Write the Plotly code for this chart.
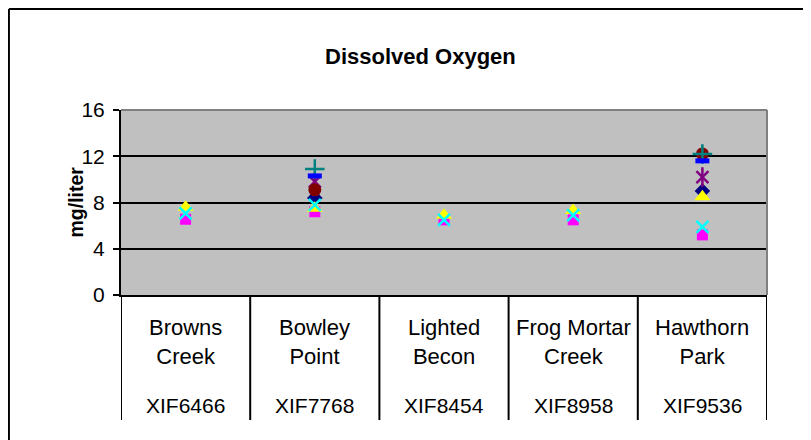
import plotly.graph_objects as go

sites = ["Browns Creek", "Bowley Point", "Lighted Becon", "Frog Mortar Creek", "Hawthorn Park"]
site_lines = ["Browns<br>Creek", "Bowley<br>Point", "Lighted<br>Becon", "Frog Mortar<br>Creek", "Hawthorn<br>Park"]
codes = ["XIF6466", "XIF7768", "XIF8454", "XIF8958", "XIF9536"]

series1 = [None, 8.4, None, None, 9.0]    # navy diamond
series2 = [6.55, 7.2, 6.5, 6.5, 5.2]      # magenta square
series3 = [7.6, 7.5, 6.9, 7.3, 8.5]       # yellow triangle
series4 = [7.05, 7.8, 6.5, 6.9, 5.9]      # cyan x
series5 = [None, 9.8, None, None, 10.2]   # purple asterisk
series6 = [None, 9.1, None, None, 12.2]   # maroon circle
series7 = [None, 10.9, None, None, 12.2]  # teal plus
series8 = [None, 10.3, None, None, 11.6]  # blue dash

yticks = [0, 4, 8, 12, 16]

FONT = "Arial, Liberation Sans, sans-serif"

fig = go.Figure()

def add(vals, name, symbol, color, size, line_w=0, line_col=None, show=True):
    fig.add_trace(go.Scatter(
        x=sites, y=vals, mode="markers", name=name, showlegend=False,
        marker=dict(symbol=symbol, color=color, size=size,
                    line=dict(width=line_w, color=line_col or color)),
        hoverinfo="x+y" if show else "skip"))

add(series1, "Series1", "diamond", "#000080", 12)
add(series2, "Series2", "square", "#FF00FF", 11)
add(series3, "Series3", "triangle-up", "#FFFF00", 14)
add(series4, "Series4", "x-thin", "#00FFFF", 12, 2.5)
add(series5, "Series5", "x-thin", "#800080", 12, 2.5)
add(series5, "Series5", "line-ns", "#800080", 14, 2.5, show=False)
add(series6, "Series6", "circle", "#800000", 13)
add(series7, "Series7", "cross-thin", "#008080", 14, 2.5)
add(series8, "Series8", "line-ew", "#0000FF", 10, 5)

shapes = []
# plot-area border (top and right gray)
shapes.append(dict(type="line", xref="paper", yref="paper", x0=0, x1=1, y0=1, y1=1,
                   line=dict(color="#808080", width=2), layer="above"))
shapes.append(dict(type="line", xref="paper", yref="paper", x0=1, x1=1, y0=0, y1=1,
                   line=dict(color="#808080", width=2), layer="above"))
# category table dividers
for i in range(len(sites) + 1):
    shapes.append(dict(type="line", xref="x", yref="paper", x0=i - 0.5, x1=i - 0.5,
                       y0=0, y1=-0.676, line=dict(color="black", width=2)))
# chart frame (left and top)
shapes.append(dict(type="line", xref="paper", yref="paper", x0=-0.1735, x1=-0.1735,
                   y0=1.546, y1=-0.9, line=dict(color="black", width=2)))
shapes.append(dict(type="line", xref="paper", yref="paper", x0=-0.1735, x1=1.2,
                   y0=1.546, y1=1.546, line=dict(color="black", width=2)))

annotations = []
for s, lab, c in zip(sites, site_lines, codes):
    annotations.append(dict(x=s, xref="x", yref="paper", y=-0.254, yanchor="middle",
                            text=lab, showarrow=False,
                            font=dict(family=FONT, size=22, color="black")))
    annotations.append(dict(x=s, xref="x", yref="paper", y=-0.595, yanchor="middle",
                            text=c, showarrow=False,
                            font=dict(family=FONT, size=21, color="black")))
annotations.append(dict(x=0.464, y=1.368, xref="paper", yref="paper",
                        text="<b>Dissolved Oxygen</b>", showarrow=False,
                        font=dict(family=FONT, size=22, color="black")))
annotations.append(dict(x=-0.0913, y=0.5, xref="paper", yref="paper",
                        text="<b>mg/liter</b>", textangle=-90, showarrow=False,
                        font=dict(family=FONT, size=19.5, color="black")))

fig.update_layout(
    width=803, height=432,
    margin=dict(l=113, r=44, t=102, b=145),
    paper_bgcolor="white", plot_bgcolor="#C0C0C0",
    shapes=shapes, annotations=annotations,
    font=dict(family=FONT, color="black"),
    xaxis=dict(type="category", categoryorder="array", categoryarray=sites,
               range=[-0.5, len(sites) - 0.5], showticklabels=False,
               showgrid=False, zeroline=False, showline=True,
               linecolor="black", linewidth=2, ticks=""),
    yaxis=dict(range=[0, 16], tickvals=yticks, showgrid=True, gridcolor="black",
               gridwidth=1.5, zeroline=False, showline=True, linecolor="black",
               linewidth=2, ticks="outside", ticklen=6, tickcolor="black",
               tickwidth=2, ticklabelstandoff=4,
               tickfont=dict(family=FONT, size=21, color="black")),
)

fig.write_html("out.html")
